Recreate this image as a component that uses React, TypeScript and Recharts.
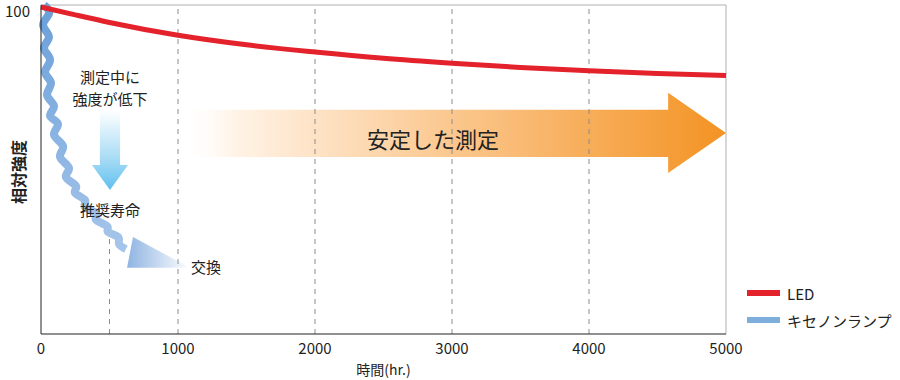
import React from 'react';
import {
  ComposedChart,
  Line,
  XAxis,
  YAxis,
  ReferenceLine,
  ReferenceArea,
  ReferenceDot,
} from 'recharts';

const FONT = '"Noto Sans CJK JP", "Noto Sans", sans-serif';

// axes
const X_TICKS = [0, 1000, 2000, 3000, 4000, 5000];
const Y_TICKS = [100];
const GRID_HOURS = [1000, 2000, 3000, 4000];
const LIFE_HOURS = 500; // recommended xenon life, short dashed line
const LIFE_LINE_TOP = 32;
const X_TITLE = '時間(hr.)';
const Y_TITLE = '相対強度';

// LED: slow, smooth decay
const LED_HOURS = [0, 250, 500, 1000, 1500, 2000, 2500, 3000, 3500, 4000, 4500, 5000];
const LED_VALUES = [99.4, 97.0, 94.7, 90.8, 87.9, 85.7, 83.8, 82.3, 81.0, 80.0, 79.2, 78.6];

// Xenon lamp: wavy, fast decay
const XENON_HOURS = [
  22, 58, 15, 58, 22, 66, 29, 73, 44, 95, 66, 124, 95, 161, 139, 204, 182, 255, 248, 321,
  321, 401, 401, 482, 489, 562, 569, 620,
];
const XENON_VALUES = [
  100, 97.3, 93.9, 90.3, 86.9, 83.3, 79.6, 76.3, 72.6, 69.3, 66.3, 63.8, 60.5, 57.1, 53.8,
  50.5, 47.7, 45.0, 42.9, 40.7, 38.6, 36.8, 34.7, 32.8, 31.0, 29.5, 27.4, 25.8,
];

const SERIES = [
  { name: 'LED', color: '#e3222b' },
  { name: 'キセノンランプ', color: '#7eaedb' },
];

// annotations: [hours, value, text, fontSize]
const NOTES: [number, number, string, number][] = [
  [504, 78.4, '測定中に', 15],
  [504, 71.7, '強度が低下', 15],
  [504, 37.7, '推奨寿命', 15],
  [1204, 20.4, '交換', 15],
  [2861, 59.6, '安定した測定', 22],
];

const ledData = LED_HOURS.map((h, i) => ({ h, v: LED_VALUES[i] }));
const xenonData = XENON_HOURS.map((h, i) => ({ h, v: XENON_VALUES[i] }));

function toPoints(pts: number[][]) {
  return pts.map((p) => p.join(',')).join(' ');
}

function OrangeArrow({ x, y, width: w, height: h }: any) {
  const hx = x + w * 0.894;
  const pts = [
    [x, y + h * 0.21],
    [hx, y + h * 0.21],
    [hx, y],
    [x + w, y + h * 0.5],
    [hx, y + h],
    [hx, y + h * 0.8],
    [x, y + h * 0.8],
  ];
  return <polygon points={toPoints(pts)} fill="url(#orangeGrad)" />;
}

function BlueDownArrow({ x, y, width: w, height: h }: any) {
  const hy = y + h * 0.69;
  const pts = [
    [x + w * 0.22, y],
    [x + w * 0.78, y],
    [x + w * 0.78, hy],
    [x + w, hy],
    [x + w * 0.5, y + h],
    [x, hy],
    [x + w * 0.22, hy],
  ];
  return <polygon points={toPoints(pts)} fill="url(#blueDownGrad)" />;
}

function SwapArrow({ x, y, width: w, height: h }: any) {
  const pts = [
    [x + w * 0.095, y],
    [x + w, y + h],
    [x, y + h],
  ];
  return <polygon points={toPoints(pts)} fill="url(#swapGrad)" />;
}

function makeNote(text: string, size: number) {
  return ({ cx, cy }: any) => (
    <text
      x={cx}
      y={cy}
      textAnchor="middle"
      dominantBaseline="central"
      fontSize={size}
      fontFamily={FONT}
      fill="#222"
    >
      {text}
    </text>
  );
}

function XTitle({ viewBox }: any) {
  return (
    <text x={viewBox.x + viewBox.width / 2} y={viewBox.y + 35} textAnchor="middle" dominantBaseline="central" fontSize={14} fontFamily={FONT} fill="#222">
      {X_TITLE}
    </text>
  );
}

function YTitle({ viewBox }: any) {
  const cy = viewBox.y + 167;
  return (
    <text
      x={18}
      y={cy}
      transform={`rotate(-90 18 ${cy})`}
      textAnchor="middle"
      dominantBaseline="central"
      fontSize={16}
      fontWeight="bold"
      fontFamily={FONT}
      fill="#222"
    >
      {Y_TITLE}
    </text>
  );
}

export default function App() {
  return (
    <div style={{ position: 'relative', width: 900, height: 380, background: '#fff' }}>
      <style>{'body{margin:0}'}</style>
      <ComposedChart width={900} height={380} margin={{ top: 5, right: 174, bottom: 16, left: 0 }}>
        <defs>
          <linearGradient id="orangeGrad" x1="0" y1="0" x2="1" y2="0">
            <stop offset="0" stopColor="#ffffff" stopOpacity={0} />
            <stop offset="0.1" stopColor="#fff3e6" />
            <stop offset="0.5" stopColor="#fbc78e" />
            <stop offset="1" stopColor="#f39323" />
          </linearGradient>
          <linearGradient id="blueDownGrad" x1="0" y1="0" x2="0" y2="1">
            <stop offset="0" stopColor="#ffffff" />
            <stop offset="0.6" stopColor="#a9dcf5" />
            <stop offset="1" stopColor="#5fc0f0" />
          </linearGradient>
          <linearGradient id="swapGrad" x1="0" y1="0" x2="1" y2="0">
            <stop offset="0" stopColor="#8fb4e2" />
            <stop offset="1" stopColor="#ffffff" />
          </linearGradient>
          <linearGradient id="xenonGrad" x1="0" y1="0" x2="0" y2="1">
            <stop offset="0" stopColor="#6a9fd9" />
            <stop offset="1" stopColor="#a6c5ea" />
          </linearGradient>
        </defs>

        <XAxis
          type="number"
          dataKey="h"
          domain={[0, 5000]}
          ticks={X_TICKS}
          interval={0}
          height={30}
          tickLine={false}
          tickSize={6}
          tickMargin={3}
          axisLine={{ stroke: '#222' }}
          tick={{ fontSize: 15, fill: '#222', fontFamily: FONT }}
          label={{ value: X_TITLE, content: XTitle }}
        />
        <YAxis
          type="number"
          dataKey="v"
          domain={[0, 100]}
          ticks={Y_TICKS}
          interval={0}
          width={41}
          tickLine={false}
          tickSize={6}
          tickMargin={5}
          axisLine={{ stroke: '#222' }}
          tick={{ fontSize: 15, fill: '#222', fontFamily: FONT, dy: 7 }}
          label={{ value: Y_TITLE, content: YTitle }}
        />

        {GRID_HOURS.map((h) => (
          <ReferenceLine key={h} x={h} stroke="#8c8c8c" strokeDasharray="5 5" />
        ))}
        <ReferenceLine
          segment={[
            { x: LIFE_HOURS, y: 0 },
            { x: LIFE_HOURS, y: LIFE_LINE_TOP },
          ]}
          stroke="#8c8c8c"
          strokeDasharray="5 5"
        />
        <ReferenceLine y={100} stroke="#b0b0b0" />
        <ReferenceLine x={5000} stroke="#b0b0b0" />

        <ReferenceArea x1={1015} x2={5000} y1={48.9} y2={73.3} shape={OrangeArrow} ifOverflow="visible" />
        <ReferenceArea x1={372} x2={635} y1={43.8} y2={68.1} shape={BlueDownArrow} ifOverflow="visible" />
        <ReferenceArea x1={628} x2={1088} y1={20.1} y2={29.5} shape={SwapArrow} ifOverflow="visible" />

        <Line
          data={xenonData}
          dataKey="v"
          name={SERIES[1].name}
          type="natural"
          stroke="url(#xenonGrad)"
          strokeWidth={8}
          dot={false}
          isAnimationActive={false}
        />
        <Line
          data={ledData}
          dataKey="v"
          name={SERIES[0].name}
          type="monotone"
          stroke={SERIES[0].color}
          strokeWidth={5}
          dot={false}
          isAnimationActive={false}
        />

        {NOTES.map(([h, v, text, size]) => (
          <ReferenceDot key={text} x={h} y={v} r={0} ifOverflow="visible" shape={makeNote(text, size)} />
        ))}
      </ComposedChart>

      <div style={{ position: 'absolute', left: 747, top: 282, fontFamily: FONT, fontSize: 15, color: '#222' }}>
        {SERIES.map((s) => (
          <div key={s.name} style={{ display: 'flex', alignItems: 'center', height: 22, marginBottom: 5 }}>
            <span style={{ display: 'inline-block', width: 33, height: 6, background: s.color, marginRight: 7 }} />
            <span>{s.name}</span>
          </div>
        ))}
      </div>
    </div>
  );
}
